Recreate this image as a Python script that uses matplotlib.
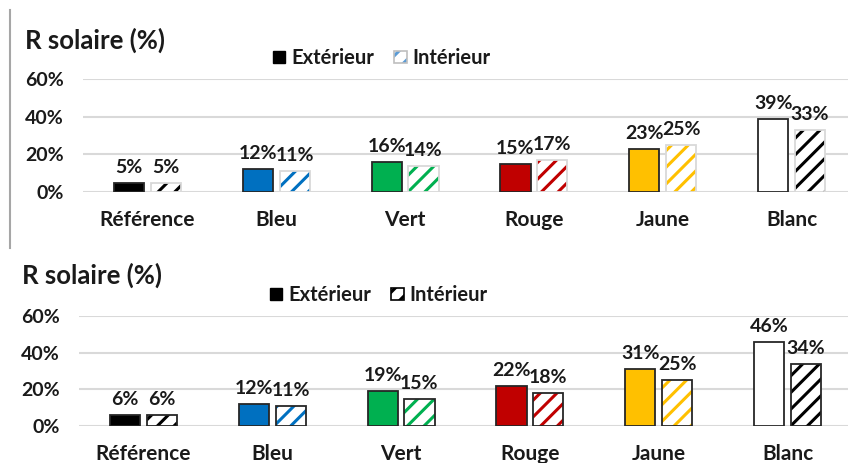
import matplotlib
matplotlib.use("Agg")
import matplotlib.pyplot as plt
from matplotlib.patches import Patch
from matplotlib.lines import Line2D

plt.rcParams['font.family'] = ['Lato', 'DejaVu Sans']
plt.rcParams['font.weight'] = 'bold'
plt.rcParams['hatch.linewidth'] = 2.2

# données de réflexion solaire
categories = ['Référence', 'Bleu', 'Vert', 'Rouge', 'Jaune', 'Blanc']
ext_haut = [0.05, 0.12, 0.16, 0.15, 0.23, 0.39]
int_haut = [0.05, 0.11, 0.14, 0.17, 0.25, 0.33]
ext_bas = [0.06, 0.12, 0.19, 0.22, 0.31, 0.46]
int_bas = [0.06, 0.11, 0.15, 0.18, 0.25, 0.34]
yticks = [0, 0.2, 0.4, 0.6]

couleurs = ['#000000', '#0070C0', '#00B050', '#C00000', '#FFC000', '#FFFFFF']
hachures = ['#000000', '#0070C0', '#00B050', '#C00000', '#FFC000', '#000000']

W, H = 848, 463
fig = plt.figure(figsize=(W / 100, H / 100), dpi=100)


def px_axes(x0, x1, y_top, y_bot):
    return fig.add_axes([x0 / W, 1 - y_bot / H, (x1 - x0) / W, (y_bot - y_top) / H])


def graphe(ax, ext, inte, bord_int, legende_hachure, legende_bord):
    x = list(range(len(categories)))
    w = 0.233
    d = 0.143
    xe = [i - d for i in x]
    xi = [i + d for i in x]
    ax.set_xlim(-0.5, len(categories) - 0.5)
    ax.set_ylim(0, 0.6)
    ax.set_yticks(yticks)
    ax.set_yticklabels([f"{int(round(v * 100))}%" for v in yticks])
    ax.grid(axis='y', color='#D9D9D9', linewidth=1.5, zorder=0)
    ax.set_axisbelow(True)
    for s in ax.spines.values():
        s.set_visible(False)
    ax.tick_params(length=0, colors='#1a1a1a')
    ax.tick_params(axis='y', pad=14, labelsize=14)
    ax.tick_params(axis='x', pad=13, labelsize=15)
    ax.set_xticks(x)
    ax.set_xticklabels(categories)

    # extérieur : aplats
    ax.bar(xe, ext, width=w, color=couleurs, edgecolor='#262626', linewidth=1.3, zorder=2)
    # intérieur : hachures colorées sur fond blanc
    ax.bar(xi, inte, width=w, color='white', edgecolor=hachures, hatch='//', linewidth=0, zorder=2)
    ax.bar(xi, inte, width=w, fill=False, edgecolor=bord_int, linewidth=1.3, zorder=3)

    for xs, vals in ((xe, ext), (xi, inte)):
        for xx, v in zip(xs, vals):
            ax.annotate(f"{int(round(v * 100))}%", (xx, v), xytext=(0, 5), textcoords='offset points',
                        ha='center', va='bottom', fontsize=14, color='#1a1a1a', zorder=4)

    h_ext = Patch(facecolor='black', edgecolor='black')
    h_int = Patch(facecolor='white', edgecolor=legende_hachure, hatch='//', linewidth=0)
    h_bord = Patch(facecolor='none', edgecolor=legende_bord, linewidth=1.2)
    return h_ext, (h_int, h_bord)


ax1 = px_axes(83, 856, 79, 192)
he, hi = graphe(ax1, ext_haut, int_haut, '#D9D9D9', '#5B9BD5', '#BFBFBF')
fig.text(25 / W, 1 - 40 / H, 'R solaire (%)', fontsize=18.5, va='center', ha='left', color='#1a1a1a')
fig.legend([he, hi], ['Extérieur', 'Intérieur'], loc='center', bbox_to_anchor=(382 / W, 1 - 58 / H),
           ncol=2, frameon=False, fontsize=14.5, handlelength=0.6, handleheight=0.6,
           handletextpad=0.3, columnspacing=1.0, labelcolor='#1a1a1a')

ax2 = px_axes(79, 852, 316, 426)
he, hi = graphe(ax2, ext_bas, int_bas, '#262626', '#000000', '#000000')
fig.text(22 / W, 1 - 275 / H, 'R solaire (%)', fontsize=18.5, va='center', ha='left', color='#1a1a1a')
fig.legend([he, hi], ['Extérieur', 'Intérieur'], loc='center', bbox_to_anchor=(379 / W, 1 - 295 / H),
           ncol=2, frameon=False, fontsize=14.5, handlelength=0.6, handleheight=0.6,
           handletextpad=0.3, columnspacing=1.0, labelcolor='#1a1a1a')

# filet vertical à gauche
fig.add_artist(Line2D([10 / W, 10 / W], [1 - 10 / H, 1 - 248 / H], color='#A6A6A6', linewidth=1.5))

fig.savefig('out.png', dpi=100)
